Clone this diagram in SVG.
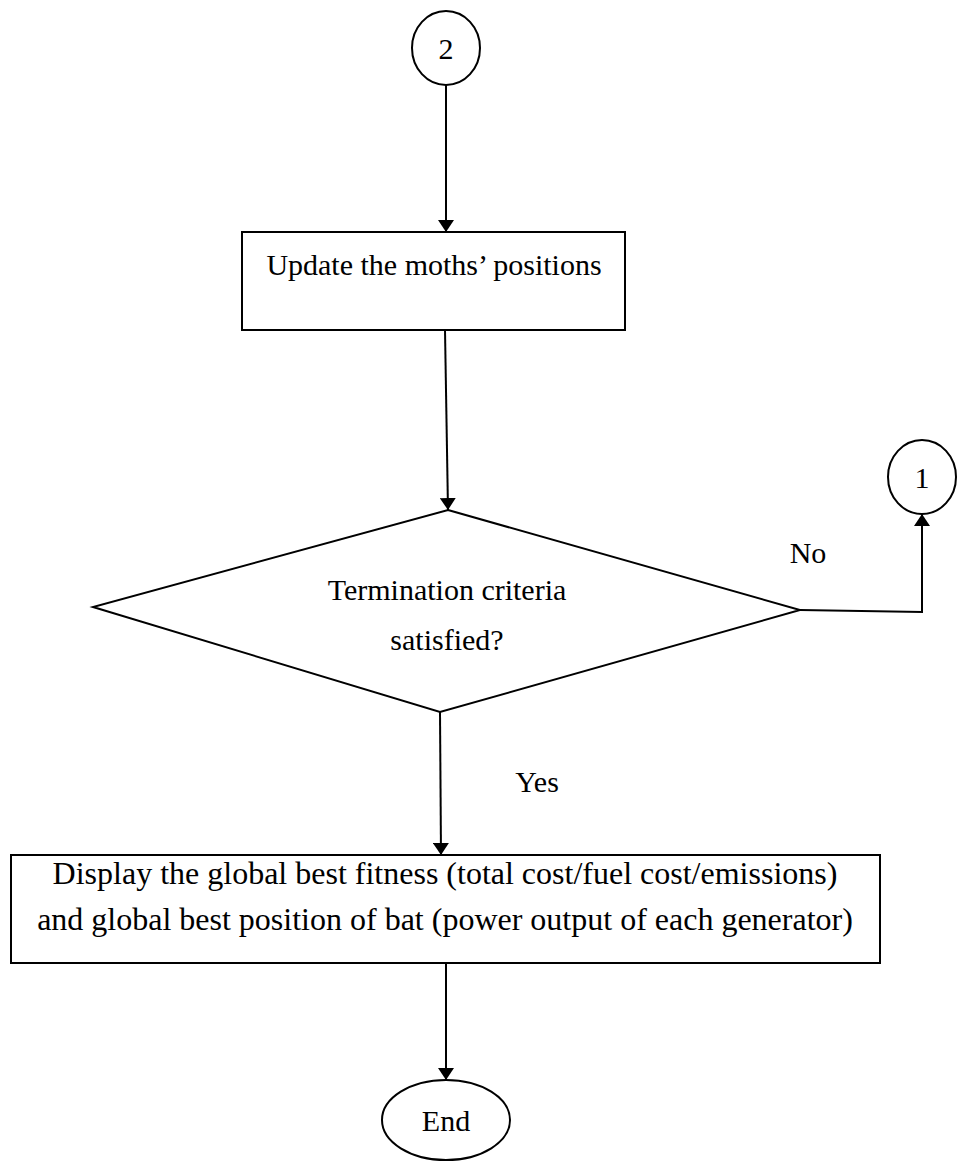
<svg xmlns="http://www.w3.org/2000/svg" width="962" height="1171" viewBox="0 0 962 1171">
  <style>
    .shape { fill: #ffffff; stroke: #000000; stroke-width: 2; }
    .edge { fill: none; stroke: #000000; stroke-width: 2; }
    .label { font-family: "Liberation Serif", "Times New Roman", serif; font-size: 30px; fill: #000000; text-anchor: middle; }
    .wide { font-size: 32px; }
  </style>
  <defs>
    <marker id="arrow" viewBox="0 0 12 16" refX="12" refY="8" markerWidth="12" markerHeight="16" markerUnits="userSpaceOnUse" orient="auto">
      <path d="M0,0 L12,8 L0,16 Z" fill="#000000"/>
    </marker>
  </defs>

  <!-- connector 2 -->
  <g id="node-connector-2">
    <ellipse class="shape" cx="446" cy="48" rx="34" ry="37"/>
    <text class="label" x="446" y="59">2</text>
  </g>

  <!-- update step -->
  <g id="node-update">
    <rect class="shape" x="242" y="232" width="383" height="98"/>
    <text class="label" x="434" y="275">Update the moths’ positions</text>
  </g>

  <!-- decision -->
  <g id="node-decision">
    <polygon class="shape" points="448,510 800,610 440,712 93,607"/>
    <text class="label" x="447" y="600">Termination criteria</text>
    <text class="label" x="447" y="650">satisfied?</text>
  </g>

  <!-- connector 1 -->
  <g id="node-connector-1">
    <ellipse class="shape" cx="922" cy="477" rx="34" ry="37"/>
    <text class="label" x="922" y="488">1</text>
  </g>

  <!-- output step -->
  <g id="node-display">
    <rect class="shape" x="11" y="855" width="869" height="108"/>
    <text class="label wide" x="445" y="884">Display the global best fitness (total cost/fuel cost/emissions)</text>
    <text class="label wide" x="445" y="930">and global best position of bat (power output of each generator)</text>
  </g>

  <!-- end terminal -->
  <g id="node-end">
    <ellipse class="shape" cx="446" cy="1120" rx="64" ry="40"/>
    <text class="label" x="446" y="1131">End</text>
  </g>

  <!-- edges -->
  <g id="connectors">
    <line class="edge" x1="446" y1="85" x2="446" y2="232" marker-end="url(#arrow)"/>
    <line class="edge" x1="445" y1="330" x2="448" y2="510" marker-end="url(#arrow)"/>
    <polyline class="edge" points="800,610 922,612 922,514" marker-end="url(#arrow)"/>
    <line class="edge" x1="440" y1="712" x2="441" y2="855" marker-end="url(#arrow)"/>
    <line class="edge" x1="446" y1="963" x2="446" y2="1080" marker-end="url(#arrow)"/>
  </g>

  <!-- edge labels -->
  <g id="edge-labels">
    <text class="label" x="808" y="563">No</text>
    <text class="label" x="537" y="792">Yes</text>
  </g>
</svg>
